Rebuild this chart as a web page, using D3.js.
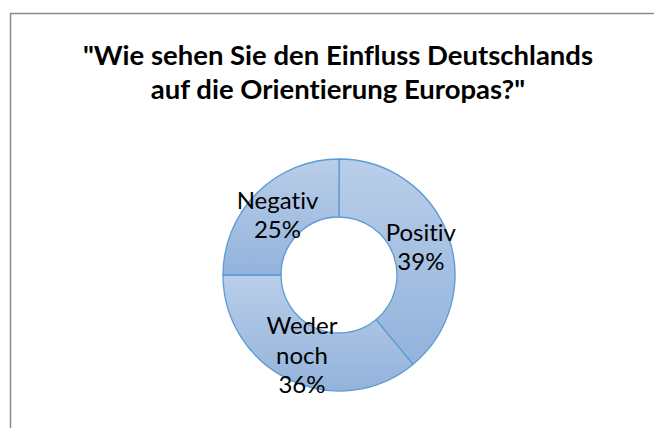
<!DOCTYPE html>
<html>
<head>
<meta charset="utf-8">
<title>Einfluss Deutschlands</title>
<style>
	body { margin: 0; background: #fff; }
	svg { display: block; }
	text { font-family: Lato, "Open Sans", sans-serif; fill: #000; font-variant-ligatures: none; }
</style>
</head>
<body>
<svg width="654" height="428"></svg>
<script src="https://cdn.jsdelivr.net/npm/d3@7"></script>
<script>
	// Daten
	const categories = ["Positiv", "Weder noch", "Negativ"]
	const labelLines = [["Positiv", "39%"], ["Weder", "noch", "36%"], ["Negativ", "25%"]]
	const values = [39, 36, 25]
	const titleLines = ["\"Wie sehen Sie den Einfluss Deutschlands", "auf die Orientierung Europas?\""]

	const svg = d3.select("svg")

	// Rahmen (nur links und oben sichtbar)
	svg.append("rect")
		.attr("x", 10.5).attr("y", 13.5)
		.attr("width", 800).attr("height", 600)
		.attr("fill", "none")
		.attr("stroke", "#8c8c8c")
		.attr("stroke-width", 1.5)

	// Titel
	svg.append("g").selectAll("text").data(titleLines).enter().append("text")
		.attr("x", 338)
		.attr("y", (d, i) => 65 + i * 34)
		.attr("text-anchor", "middle")
		.attr("font-size", 27.5)
		.attr("font-weight", "bold")
		.text(d => d)

	// Verlauf je Segment
	const defs = svg.append("defs")
	const grad = defs.append("linearGradient")
		.attr("id", "fillGrad")
		.attr("x1", 0).attr("y1", 0).attr("x2", 0).attr("y2", 1)
	grad.append("stop").attr("offset", "0%").attr("stop-color", "#b9cee9")
	grad.append("stop").attr("offset", "100%").attr("stop-color", "#93b3dc")

	const cx = 339, cy = 275, rOuter = 116, rInner = 58
	const pie = d3.pie().sort(null).value(d => d)
	const arcs = pie(values)
	const arc = d3.arc().innerRadius(rInner).outerRadius(rOuter)
	const labelArc = d3.arc().innerRadius((rInner + rOuter) / 2).outerRadius((rInner + rOuter) / 2)

	const g = svg.append("g").attr("transform", `translate(${cx}, ${cy})`)

	g.selectAll("path").data(arcs).enter().append("path")
		.attr("d", arc)
		.attr("fill", "url(#fillGrad)")
		.attr("stroke", "#5b9bd5")
		.attr("stroke-width", 1.3)

	// Beschriftungen
	const lh = 29.5
	const lbl = g.selectAll("g.lbl").data(arcs).enter().append("g")
		.attr("class", "lbl")
		.attr("transform", d => `translate(${labelArc.centroid(d)})`)
	lbl.selectAll("text").data((d, i) => labelLines[i].map((t, j, a) => ({ t, j, n: a.length })))
		.enter().append("text")
		.attr("text-anchor", "middle")
		.attr("font-size", 24)
		.attr("y", d => (d.j - (d.n - 1) / 2) * lh + 10)
		.text(d => d.t)
</script>
</body>
</html>
